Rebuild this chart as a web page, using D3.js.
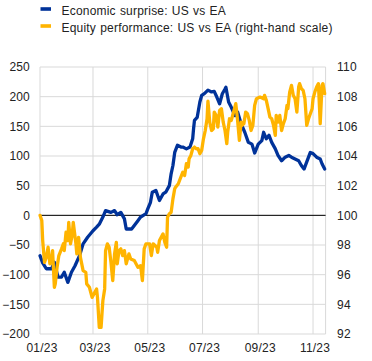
<!DOCTYPE html>
<html><head><meta charset="utf-8">
<script src="https://cdn.jsdelivr.net/npm/d3@7"></script>
<style>html,body{margin:0;padding:0;background:#fff;}svg{display:block;}</style>
</head><body><svg id="c" width="372" height="361"></svg>
<script>
const seriesNames = ["Economic surprise: US vs EA", "Equity performance: US vs EA (right-hand scale)"];
const leftTicks = [-200,-150,-100,-50,0,50,100,150,200,250];
const rightTicks = [92,94,96,98,100,102,104,106,108,110];
const xTickDates = ["2023-01-01","2023-03-01","2023-05-01","2023-07-01","2023-09-01","2023-11-01"];
const xTickLabels = ["01/23","03/23","05/23","07/23","09/23","11/23"];

const econDates = ["2023-01-01","2023-01-04","2023-01-08","2023-01-14","2023-01-17","2023-01-21","2023-01-25","2023-01-28","2023-02-01","2023-02-05","2023-02-09","2023-02-14","2023-02-18","2023-02-23","2023-03-01","2023-03-05","2023-03-08","2023-03-12","2023-03-15","2023-03-21","2023-03-25","2023-03-28","2023-04-01","2023-04-05","2023-04-07","2023-04-13","2023-04-16","2023-04-20","2023-04-23","2023-04-29","2023-05-01","2023-05-04","2023-05-06","2023-05-10","2023-05-14","2023-05-18","2023-05-21","2023-05-25","2023-05-27","2023-05-29","2023-05-31","2023-06-03","2023-06-07","2023-06-09","2023-06-13","2023-06-17","2023-06-20","2023-06-21","2023-06-22","2023-06-25","2023-06-28","2023-06-30","2023-07-03","2023-07-07","2023-07-11","2023-07-14","2023-07-17","2023-07-20","2023-07-23","2023-07-26","2023-07-27","2023-07-30","2023-08-02","2023-08-06","2023-08-09","2023-08-13","2023-08-17","2023-08-21","2023-08-25","2023-08-28","2023-09-01","2023-09-05","2023-09-07","2023-09-10","2023-09-13","2023-09-16","2023-09-20","2023-09-23","2023-09-27","2023-10-01","2023-10-05","2023-10-08","2023-10-12","2023-10-16","2023-10-19","2023-10-22","2023-10-25","2023-10-29","2023-11-01","2023-11-05","2023-11-09","2023-11-11","2023-11-14"];
const econValues = [-68,-80,-90,-90,-79,-104,-104,-96,-113,-96,-85,-68,-48,-37,-26,-20,-15,-3,8,5,8,1,5,-6,-23,-23,-17,-9,-3,3,11,22,39,42,25,36,39,50,70,84,106,118,115,115,112,115,129,146,160,165,191,202,205,211,208,209,199,188,205,213,216,191,182,168,174,154,140,123,120,105,120,126,140,129,135,123,112,101,92,98,101,98,95,92,84,78,90,106,104,98,95,87,78];

const equityDates = ["2023-01-01","2023-01-03","2023-01-04","2023-01-06","2023-01-08","2023-01-10","2023-01-12","2023-01-14","2023-01-15","2023-01-17","2023-01-18","2023-01-20","2023-01-22","2023-01-25","2023-01-27","2023-01-28","2023-01-30","2023-02-01","2023-02-02","2023-02-04","2023-02-06","2023-02-07","2023-02-10","2023-02-11","2023-02-13","2023-02-15","2023-02-18","2023-02-21","2023-02-22","2023-02-25","2023-02-28","2023-03-03","2023-03-05","2023-03-06","2023-03-08","2023-03-10","2023-03-12","2023-03-14","2023-03-15","2023-03-17","2023-03-19","2023-03-21","2023-03-23","2023-03-25","2023-03-27","2023-03-28","2023-03-30","2023-04-01","2023-04-03","2023-04-05","2023-04-07","2023-04-10","2023-04-12","2023-04-16","2023-04-20","2023-04-23","2023-04-25","2023-04-27","2023-04-29","2023-05-03","2023-05-05","2023-05-07","2023-05-11","2023-05-12","2023-05-14","2023-05-18","2023-05-20","2023-05-22","2023-05-23","2023-05-25","2023-05-27","2023-05-29","2023-05-31","2023-06-01","2023-06-04","2023-06-06","2023-06-09","2023-06-11","2023-06-13","2023-06-15","2023-06-16","2023-06-18","2023-06-20","2023-06-22","2023-06-24","2023-06-26","2023-06-28","2023-06-30","2023-07-02","2023-07-04","2023-07-06","2023-07-07","2023-07-09","2023-07-11","2023-07-13","2023-07-14","2023-07-16","2023-07-18","2023-07-20","2023-07-22","2023-07-24","2023-07-26","2023-07-28","2023-07-29","2023-07-31","2023-08-02","2023-08-04","2023-08-05","2023-08-07","2023-08-09","2023-08-11","2023-08-13","2023-08-14","2023-08-16","2023-08-18","2023-08-20","2023-08-22","2023-08-24","2023-08-26","2023-08-28","2023-08-30","2023-09-03","2023-09-07","2023-09-08","2023-09-10","2023-09-12","2023-09-14","2023-09-16","2023-09-18","2023-09-20","2023-09-21","2023-09-23","2023-09-25","2023-09-27","2023-09-29","2023-10-01","2023-10-03","2023-10-04","2023-10-06","2023-10-08","2023-10-10","2023-10-12","2023-10-14","2023-10-16","2023-10-17","2023-10-19","2023-10-21","2023-10-23","2023-10-25","2023-10-27","2023-10-29","2023-10-31","2023-11-01","2023-11-03","2023-11-05","2023-11-07","2023-11-09","2023-11-11","2023-11-12","2023-11-14"];
const equityValues = [100.0,99.65,98.3,96.83,97.17,97.85,96.73,96.95,97.62,95.15,95.38,96.5,97.29,97.74,98.08,97.62,98.86,98.3,99.53,98.08,98.75,99.53,98.08,97.4,98.52,97.17,96.27,96.16,95.38,95.15,94.47,94.81,95.04,94.47,92.45,92.45,94.25,95.04,97.62,98.08,97.85,96.83,95.6,97.4,98.18,96.73,97.62,97.74,97.29,97.62,96.73,97.4,97.06,96.95,96.5,96.61,95.6,97.74,98.08,98.08,97.29,98.08,97.85,97.51,98.3,98.75,98.18,97.85,99.87,100.1,100.2,101.11,101.79,101.9,102.13,102.45,102.91,102.69,103.48,103.25,103.81,104.04,104.49,104.6,104.49,104.49,104.15,104.37,105.16,105.72,106.51,107.7,106.28,105.72,105.84,106.96,106.74,105.95,107.07,107.19,106.28,105.72,104.83,105.61,106.51,106.4,106.85,107.07,107.53,106.4,105.05,106.28,106.06,106.18,106.96,106.85,106.4,105.72,106.06,107.41,107.86,107.97,107.86,108.09,107.75,107.19,106.62,106.51,106.06,105.39,106.74,106.28,106.74,105.72,106.18,106.51,107.41,107.19,108.31,108.76,108.09,107.86,106.96,108.65,108.88,108.54,108.42,107.86,106.06,106.51,106.85,107.19,107.86,108.31,108.65,108.88,106.18,108.76,108.88,108.2];

const parse = d3.timeParse("%Y-%m-%d");
const econ = econDates.map((d,i)=>({date:parse(d), value:econValues[i]}));
const equity = equityDates.map((d,i)=>({date:parse(d), value:equityValues[i]}));

const plot = {left:40, right:325.6, top:67, bottom:334};
const FONT = "Arial, 'Liberation Sans', sans-serif";
const blue = "#003299", yellow = "#ffb400", grid = "#d9d9d9", txt = "#222";

const x = d3.scaleTime().domain([parse("2023-01-01"), parse("2023-11-15")]).range([plot.left, plot.right]);
const yL = d3.scaleLinear().domain([-200,250]).range([plot.bottom, plot.top]);
const yR = d3.scaleLinear().domain([92,110]).range([plot.bottom, plot.top]);

const svg = d3.select("#c");

svg.append("g").selectAll("line").data(leftTicks).join("line")
  .attr("x1", plot.left).attr("x2", plot.right)
  .attr("y1", d=>yL(d)).attr("y2", d=>yL(d))
  .attr("stroke", grid).attr("stroke-width", 1);
svg.append("g").selectAll("line").data(xTickDates.map(parse).concat([x.domain()[1]])).join("line")
  .attr("x1", d=>x(d)).attr("x2", d=>x(d))
  .attr("y1", plot.top).attr("y2", plot.bottom)
  .attr("stroke", grid).attr("stroke-width", 1);

svg.append("line").attr("x1", plot.left).attr("x2", plot.right)
  .attr("y1", yL(0)).attr("y2", yL(0)).attr("stroke", "#000").attr("stroke-width", 1);

const axL = d3.axisLeft(yL).tickValues(leftTicks).tickSize(0).tickPadding(0);
const gL = svg.append("g").attr("transform", `translate(${plot.left-10},0)`).call(axL);
const axR = d3.axisRight(yR).tickValues(rightTicks).tickSize(0).tickPadding(0);
const gR = svg.append("g").attr("transform", `translate(${plot.right+11.5},0)`).call(axR);
const axB = d3.axisBottom(x).tickValues(xTickDates.map(parse)).tickFormat((d,i)=>xTickLabels[i]).tickSize(0).tickPadding(0);
const gB = svg.append("g").attr("transform", `translate(1.5,${plot.bottom+9.5})`).call(axB);
[gL,gR,gB].forEach(g=>{
  g.select(".domain").remove();
  g.selectAll("text").attr("font-family", FONT).attr("font-size", 12).attr("fill", txt).attr("letter-spacing", "0.2px");
});

const lineL = d3.line().x(d=>x(d.date)).y(d=>yL(d.value));
const lineR = d3.line().x(d=>x(d.date)).y(d=>yR(d.value));
svg.append("path").datum(econ).attr("d", lineL).attr("fill","none")
  .attr("stroke", blue).attr("stroke-width", 3.3).attr("stroke-linejoin","round").attr("stroke-linecap","round");
svg.append("path").datum(equity).attr("d", lineR).attr("fill","none")
  .attr("stroke", yellow).attr("stroke-width", 3.3).attr("stroke-linejoin","round").attr("stroke-linecap","round");

const legColors = [blue, yellow];
const leg = svg.append("g");
seriesNames.forEach((name,i)=>{
  const cy = 9 + i*17;
  leg.append("rect").attr("x", 40.5).attr("y", cy-1.8).attr("width", 10.5).attr("height", 3.6).attr("fill", legColors[i]);
  leg.append("text").attr("x", 61.5).attr("y", cy + 2).attr("dy","0.35em")
    .attr("font-family", FONT).attr("font-size", 12).attr("fill", txt)
    .attr("letter-spacing", "0.2px").attr("word-spacing", "0.6px").text(name);
});
</script></body></html>
